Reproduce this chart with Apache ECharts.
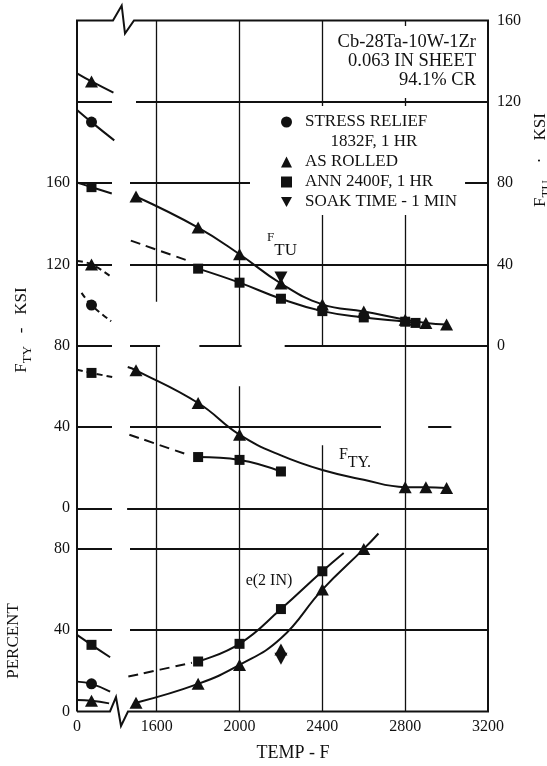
<!DOCTYPE html>
<html><head><meta charset="utf-8">
<script src="https://cdn.jsdelivr.net/npm/echarts@6.0.0/dist/echarts.min.js"></script>
<style>html,body{margin:0;padding:0;background:#fff}#chart{width:547px;height:766px}</style>
</head><body><div id="chart"></div>
<script>
// ================= DATA =================
const BREAK_ZERO = 1215;   // axis value where 0 °F of the broken room-temperature segment sits
const RT = 70;             // room temperature, °F
const xTicks   = [1600, 2000, 2400, 2800, 3200];
const ftyTicks = [0, 40, 80, 120, 160];
const ftuTicks = [0, 40, 80, 120, 160];
const pctTicks = [0, 40, 80];

// --- room-temperature points (temps in °F of the broken segment; ends are trend strokes) ---
const rtFtuRolledT = [0, RT, 176], rtFtuRolledV = [134, 130, 124.5];
const rtFtuSrT     = [0, RT, 180], rtFtuSrV     = [116, 110, 101];
const rtFtuAnnT    = [0, RT, 168], rtFtuAnnV    = [80.3, 78, 74.9];
const rtFtyRolledT = [0, RT, 170], rtFtyRolledV = [121.7, 120, 113.5];
const rtFtySrT     = [22, RT, 165], rtFtySrV    = [106, 100, 92];
const rtFtyAnnT    = [0, RT, 170], rtFtyAnnV    = [68.2, 66.6, 64.6];
const rtElAnnT     = [0, RT, 160], rtElAnnV     = [37.7, 32.8, 26.7];
const rtElSrT      = [0, RT, 160], rtElSrV      = [14.7, 13.6, 9.8];
const rtElRolledT  = [0, RT, 155], rtElRolledV  = [5.7, 5.3, 4.0];

// --- F_TU (right axis, ksi) ---
const ftuRolledT = [1500, 1800, 2000, 2200, 2400, 2600, 2800, 2900, 3000];
const ftuRolledV = [73.4, 58.1, 45.0, 30.6, 20.3, 16.8, 12.8, 11.2, 10.4];
const ftuAnnT = [1800, 2000, 2200, 2400, 2600, 2800, 2850];
const ftuAnnV = [37.9, 31.0, 23.1, 17.0, 13.9, 11.8, 11.2];
const ftuAnnDashT = [1475, 1760], ftuAnnDashV = [51.7, 41.5];
const ftuSoakT = [2200], ftuSoakV = [33.5];

// --- F_TY (left axis, ksi) ---
const ftyRolledT = [1500, 1800, 2000, 2800, 2900, 3000];
const ftyRolledV = [67.9, 51.8, 36.2, 10.4, 10.3, 10.0];
const ftyRolledCurveT = [1460, 2200, 2400, 2600];      // curve-only points
const ftyRolledCurveV = [69.5, 26.0, 18.8, 14.0];
const ftyAnnT = [1800, 2000, 2200], ftyAnnV = [25.2, 23.8, 18.1];
const ftyAnnDashT = [1468, 1760], ftyAnnDashV = [36.2, 26.0];

// --- elongation e(2 IN), percent ---
const elRolledT = [1500, 1800, 2000, 2400, 2600];
const elRolledV = [4.3, 13.6, 22.9, 60, 80];
const elRolledCurveT = [2200, 2671], elRolledCurveV = [36, 87.6];
const elRolledExtraT = [2200], elRolledExtraV = [30.5];
const elSoakT = [2200], elSoakV = [26];
const elAnnT = [1800, 2000, 2200, 2400], elAnnV = [24.6, 33.3, 50.4, 69];
const elAnnCurveT = [2503], elAnnCurveV = [78];
const elAnnDashT = [1463, 1770], elAnnDashV = [17.2, 24.0];

// ================= LAYOUT / STYLE =================
const SERIF = '"Liberation Serif", "DejaVu Serif", serif';
const INK = '#111';
const BREAK_GAP = [1384, 1471];   // gap in grid lines at the axis break (axis units)
const X0 = BREAK_ZERO, X1 = 3200;
// grid lines [value, [[from,to],...]] in axis units (left ksi scale / temperature)
const hGrid = [
  [200, [[X0, BREAK_GAP[0]], [1500, X1]]],
  [160, [[X0, BREAK_GAP[0]], [BREAK_GAP[1], X1]]],
  [120, [[X0, BREAK_GAP[0]], [BREAK_GAP[1], X1]]],
  [80,  [[X0, BREAK_GAP[0]], [BREAK_GAP[1], 1616], [1806, 2010], [2218, X1]]],
  [40,  [[X0, BREAK_GAP[0]], [BREAK_GAP[1], 2683], [2911, 3023]]],
  [0,   [[X0, BREAK_GAP[0]], [1457, X1]]],
  [-20, [[X0, BREAK_GAP[0]], [BREAK_GAP[1], X1]]],
  [-60, [[X0, BREAK_GAP[0]], [BREAK_GAP[1], X1]]]
];
const vGrid = [
  [1600, [[-100, 79.6], [101.6, 240]]],
  [2000, [[-100, 60], [79.6, 240]]],
  [2400, [[-100, 31], [79.6, 240]]],
  [2800, [[-100, 240]]]
];

function build(T, V, o) {
  o = o || {};
  const off = o.offset || 0, plain = o.plain || [];
  const arr = T.map((t, i) => ({ v: [t + off, V[i]], m: !plain.includes(i) }));
  (o.gT || []).forEach((t, i) => arr.push({ v: [t + off, o.gV[i]], m: false }));
  arr.sort((a, b) => a.v[0] - b.v[0]);
  return arr.map(p => p.m ? { value: p.v } : { value: p.v, symbol: 'none' });
}
const rt = (T, V) => build(T, V, { offset: BREAK_ZERO, plain: [0, 2] });

const TRI = { symbol: 'triangle', size: [13, 12] };
const CIR = { symbol: 'circle', size: 11 };
const SQ  = { symbol: 'rect', size: 10 };
const INV = { symbol: 'triangle', size: [13, 12], rotate: 180 };
const NONE = { symbol: 'none', size: 0 };

function line(name, yIdx, data, sym, extra) {
  return Object.assign({
    type: 'line', name, xAxisIndex: 0, yAxisIndex: yIdx, data,
    symbol: sym.symbol, symbolSize: sym.size, symbolRotate: sym.rotate || 0,
    smooth: 0.45,
    lineStyle: { color: INK, width: 2 }, itemStyle: { color: INK, opacity: 1 },
    z: 3, silent: true, animation: false
  }, extra || {});
}
const DASH = { lineStyle: { color: INK, width: 2, type: [10, 6] } };
const DASH_S = { lineStyle: { color: INK, width: 2, type: [6, 4] } };
const scatter = (name, yIdx, T, V, sym) => ({
  type: 'scatter', name, xAxisIndex: 0, yAxisIndex: yIdx,
  data: T.map((t, i) => [t, V[i]]), symbol: sym.symbol, symbolSize: sym.size,
  symbolRotate: sym.rotate || 0, itemStyle: { color: INK, opacity: 1 }, z: 4, silent: true, animation: false
});

const gridLinesData = [];
hGrid.forEach(([y, segs]) => segs.forEach(([a, b]) => gridLinesData.push({ coords: [[a, y], [b, y]], lineStyle: { width: 2 } })));
vGrid.forEach(([x, segs]) => segs.forEach(([a, b]) => gridLinesData.push({ coords: [[x, a], [x, b]], lineStyle: { width: 1.3 } })));

const SR = 'STRESS RELIEF', AR = 'AS ROLLED', AN = 'ANN 2400F, 1 HR', SK = 'SOAK TIME - 1 MIN', SR2 = '1832F, 1 HR';

const series = [
  { type: 'lines', coordinateSystem: 'cartesian2d', xAxisIndex: 0, yAxisIndex: 0, data: gridLinesData,
    lineStyle: { color: INK, opacity: 1 }, silent: true, z: 1, animation: false },
  // F_TU (right axis)
  line(AR, 1, rt(rtFtuRolledT, rtFtuRolledV), TRI),
  line(SR, 1, rt(rtFtuSrT, rtFtuSrV), CIR),
  line(AN, 1, rt(rtFtuAnnT, rtFtuAnnV), SQ),
  line(AR, 1, build(ftuRolledT, ftuRolledV), TRI),
  line(AN, 1, build(ftuAnnT, ftuAnnV), SQ),
  line(AN, 1, build(ftuAnnDashT, ftuAnnDashV), NONE, DASH),
  scatter(SK, 1, ftuSoakT, ftuSoakV, INV),
  // F_TY (left axis)
  line(AR, 0, rt(rtFtyRolledT, rtFtyRolledV), TRI, DASH_S),
  line(SR, 0, rt(rtFtySrT, rtFtySrV), CIR, DASH_S),
  line(AN, 0, rt(rtFtyAnnT, rtFtyAnnV), SQ, DASH_S),
  line(AR, 0, build(ftyRolledT, ftyRolledV, { gT: ftyRolledCurveT, gV: ftyRolledCurveV }), TRI),
  line(AN, 0, build(ftyAnnT, ftyAnnV), SQ),
  line(AN, 0, build(ftyAnnDashT, ftyAnnDashV), NONE, DASH),
  // elongation (percent axis)
  line(AN, 2, rt(rtElAnnT, rtElAnnV), SQ),
  line(SR, 2, rt(rtElSrT, rtElSrV), CIR),
  line(AR, 2, rt(rtElRolledT, rtElRolledV), TRI),
  line(AR, 2, build(elRolledT, elRolledV, { gT: elRolledCurveT, gV: elRolledCurveV }), TRI),
  line(AN, 2, build(elAnnT, elAnnV, { gT: elAnnCurveT, gV: elAnnCurveV }), SQ),
  line(AN, 2, build(elAnnDashT, elAnnDashV), NONE, DASH),
  scatter(AR, 2, elRolledExtraT, elRolledExtraV, TRI),
  scatter(SK, 2, elSoakT, elSoakV, INV),
  { type: 'line', name: SR2, data: [], xAxisIndex: 0, yAxisIndex: 0 }
];

const labelStyle = { fontFamily: SERIF, fontSize: 16, color: INK };
const yAx = (min, max, pos, ticks, margin) => ({
  type: 'value', min, max, interval: 20, position: pos,
  axisLine: { show: false }, axisTick: { show: false }, splitLine: { show: false },
  axisLabel: Object.assign({ margin, formatter: v => ticks.includes(v) ? String(v) : '' }, labelStyle)
});

const ctx = document.createElement('canvas').getContext('2d');
function tw(t, size) { ctx.font = size + 'px ' + SERIF; return ctx.measureText(t).width; }
// text made of parts [{t, size, dy}], centred at (x,y), optionally rotated
function label(parts, x, y, rot) {
  const total = parts.reduce((s, p) => s + tw(p.t, p.size), 0);
  let cur = -total / 2;
  const children = parts.map(p => {
    const el = { type: 'text', x: cur, y: p.dy || 0,
      style: { text: p.t, fontFamily: SERIF, fontSize: p.size, fill: INK,
               align: 'left', textAlign: 'left', verticalAlign: 'middle', textVerticalAlign: 'middle' } };
    cur += tw(p.t, p.size);
    return el;
  });
  return { type: 'group', x, y, rotation: rot || 0, children, z: 60 };
}
const txt = (t, x, y, size, align) => ({ type: 'text', x, y, z: 60,
  style: { text: t, fontFamily: SERIF, fontSize: size, fill: INK, align: align || 'center', textAlign: align || 'center',
           verticalAlign: 'middle', textVerticalAlign: 'middle' } });

const staticGraphic = [
  { type: 'rect', shape: { x: 328, y: 26, width: 154, height: 72 }, style: { fill: '#fff' }, z: 50 },
  txt('Cb-28Ta-10W-1Zr', 476, 42, 18.5, 'right'),
  txt('0.063 IN SHEET', 476, 61, 18.5, 'right'),
  txt('94.1% CR', 476, 80, 18.5, 'right'),
  label([{ t: 'F', size: 13 }, { t: 'TU', size: 17, dy: 13 }], 282, 238, 0),
  label([{ t: 'F', size: 16 }, { t: 'TY.', size: 16, dy: 8 }], 355, 455, 0),
  txt('e(2 IN)', 269, 581, 16),
  txt('TEMP - F', 293, 753, 18),
  label([{ t: 'PERCENT', size: 17 }], 14, 641, Math.PI / 2),
  label([{ t: 'F', size: 17 }, { t: 'TY', size: 13, dy: 6 }, { t: '   -   KSI', size: 17 }], 22, 330, Math.PI / 2),
  label([{ t: 'F', size: 17 }, { t: 'TU', size: 13, dy: 6 }, { t: '    ·    KSI', size: 17 }], 541, 160, Math.PI / 2)
];

const chart = echarts.init(document.getElementById('chart'), null, { renderer: 'canvas' });
const option = {
  backgroundColor: '#fff',
  animation: false,
  grid: { left: 77, right: 59, top: 20.5, bottom: 54.5, containLabel: false },
  xAxis: {
    type: 'value', min: X0, max: X1, interval: 5,
    axisLine: { show: false }, axisTick: { show: false }, splitLine: { show: false },
    axisLabel: Object.assign({ margin: 7, formatter: v => v === BREAK_ZERO ? '0' : (xTicks.includes(v) ? String(v) : '') }, labelStyle)
  },
  yAxis: [
    yAx(-100, 240, 'left', ftyTicks, 7),
    yAx(-180, 160, 'right', ftuTicks, 9),
    yAx(0, 340, 'left', pctTicks, 7)
  ],
  legend: {
    orient: 'vertical', left: 250, top: 106, padding: [6, 8, 3, 31],
    backgroundColor: '#fff', itemWidth: 11, itemHeight: 11, itemGap: 0, selectedMode: false, z: 10,
    textStyle: { fontFamily: SERIF, fontSize: 17, color: INK, lineHeight: 20, padding: [0, 0, 0, 8] },
    data: [
      { name: SR, icon: 'circle' },
      { name: SR2, icon: 'circle', itemStyle: { color: 'rgba(0,0,0,0)', borderWidth: 0 } },
      { name: AR, icon: 'triangle' },
      { name: AN, icon: 'rect' },
      { name: SK, icon: 'path://M0,0L12,0L6,11Z' }
    ],
    formatter: n => n === SR2 ? '      ' + SR2 : n
  },
  graphic: staticGraphic,
  series
};
chart.setOption(option);

// frame with axis-break marks, positioned from the axes
const p = (x, y) => chart.convertToPixel({ xAxisIndex: 0, yAxisIndex: 0 }, [x, y]);
const [fx0, fyT] = p(X0, 240), [fx1, fyB] = p(X1, -100), bx = p(BREAK_GAP[0], 0)[0];
const frame = [
  [fx0, fyB], [fx0, fyT], [bx + 1, fyT], [bx + 9.7, fyT - 15], [bx + 13, fyT + 13], [bx + 22, fyT],
  [fx1, fyT], [fx1, fyB], [bx + 16, fyB], [bx + 9, fyB + 14.5], [bx + 4, fyB - 14.5], [bx - 2, fyB], [fx0, fyB]
];
chart.setOption({ graphic: staticGraphic.concat([
  { type: 'polyline', shape: { points: frame }, style: { stroke: INK, lineWidth: 2, fill: null, lineJoin: 'miter' }, z: 55 }
]) });
</script></body></html>
